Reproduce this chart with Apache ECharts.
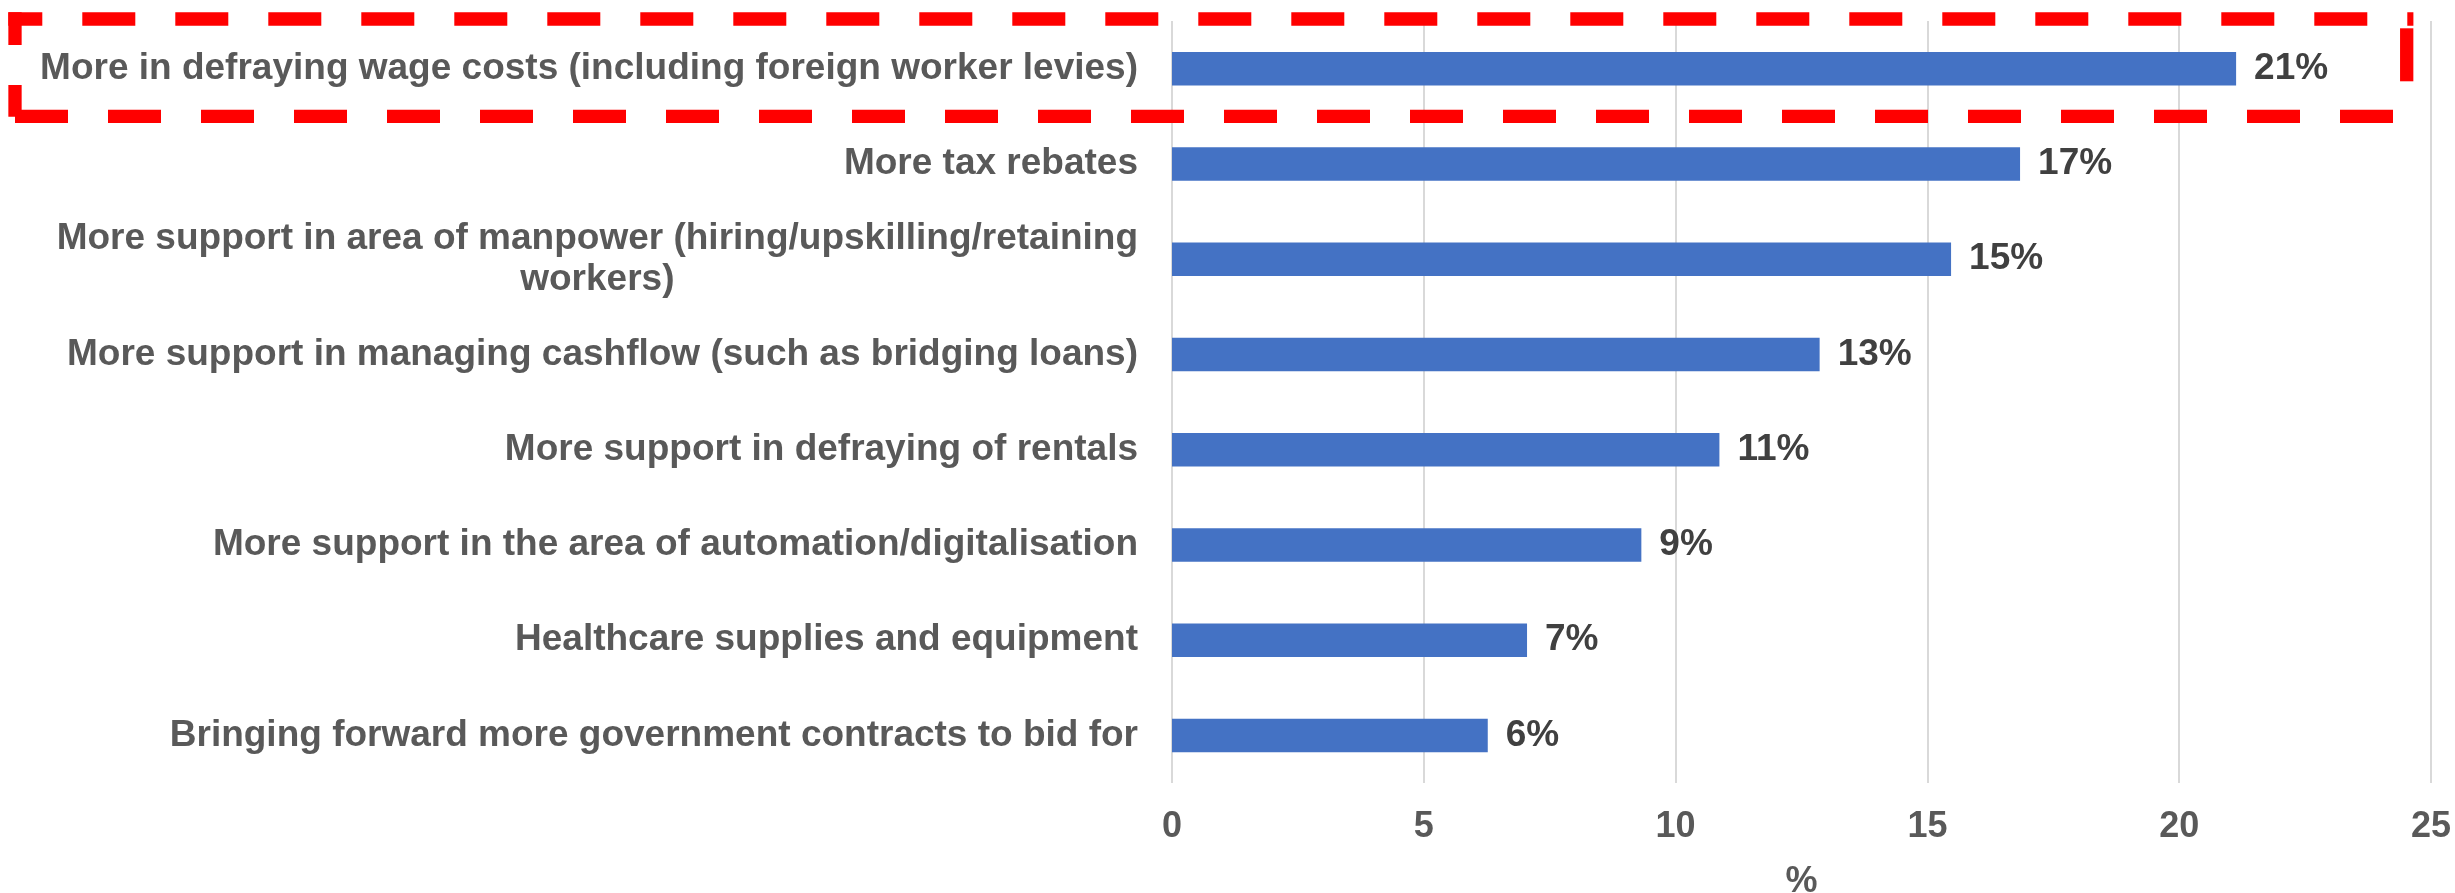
<!DOCTYPE html>
<html>
<head>
<meta charset="utf-8">
<style>
  html, body { margin: 0; padding: 0; background: #ffffff; }
  #chart { width: 2455px; height: 893px; }
</style>
<script src="https://cdn.jsdelivr.net/npm/echarts@6/dist/echarts.min.js"></script>
</head>
<body>
<div id="chart"></div>
<script>
const categories = [
  'More in defraying wage costs (including foreign worker levies)',
  'More tax rebates',
  'More support in area of manpower (hiring/upskilling/retaining\nworkers)',
  'More support in managing cashflow (such as bridging loans)',
  'More support in defraying of rentals',
  'More support in the area of automation/digitalisation',
  'Healthcare supplies and equipment',
  'Bringing forward more government contracts to bid for'
];
const values = [21.13, 16.84, 15.47, 12.86, 10.87, 9.32, 7.05, 6.27];
const xTicks = { min: 0, max: 25, interval: 5 };
const axisName = '%';

const FONT = "'Liberation Sans', Arial, sans-serif";
const chart = echarts.init(document.getElementById('chart'), null, { renderer: 'canvas' });

const RED = '#FF0000';
const LW = 13.3;
const DASH = [53, 40];

chart.setOption({
  animation: false,
  backgroundColor: '#ffffff',
  grid: { left: 1172, right: 24, top: 21, bottom: 110, containLabel: false, outerBoundsMode: 'none' },
  xAxis: {
    type: 'value',
    min: xTicks.min, max: xTicks.max, interval: xTicks.interval,
    name: axisName,
    nameLocation: 'middle',
    nameGap: 81,
    nameTextStyle: { fontFamily: FONT, fontSize: 36, fontWeight: 'bold', color: '#595959' },
    axisLine: { show: false },
    axisTick: { show: false },
    axisLabel: { margin: 26, fontFamily: FONT, fontSize: 36, fontWeight: 'bold', color: '#595959' },
    splitLine: { show: true, lineStyle: { color: '#D9D9D9', width: 2 } }
  },
  yAxis: {
    type: 'category',
    data: categories,
    inverse: true,
    axisLine: { show: false },
    axisTick: { show: false },
    splitLine: { show: false },
    axisLabel: {
      margin: 34,
      formatter: function (v) {
        return v.split('\n').map(function (s) { return '{c|' + s + '}'; }).join('\n');
      },
      rich: {
        c: { align: 'center', fontFamily: FONT, fontSize: 37, fontWeight: 'bold', color: '#595959', lineHeight: 41 }
      }
    }
  },
  series: [{
    type: 'bar',
    data: values,
    barWidth: 33.5,
    itemStyle: { color: '#4472C4' },
    label: {
      show: true,
      position: 'right',
      distance: 18,
      fontFamily: FONT,
      fontSize: 37,
      fontWeight: 'bold',
      color: '#404040',
      formatter: function (p) { return Math.round(p.value) + '%'; }
    }
  }],
  graphic: [
    { type: 'line', z: 100, shape: { x1: 8.3, y1: 19, x2: 2413.4, y2: 19 },
      style: { stroke: RED, lineWidth: LW, lineDash: DASH, lineDashOffset: 19, fill: null } },
    { type: 'line', z: 100, shape: { x1: 15, y1: 116.3, x2: 2413.4, y2: 116.3 },
      style: { stroke: RED, lineWidth: LW, lineDash: DASH, lineDashOffset: 0, fill: null } },
    { type: 'line', z: 100, shape: { x1: 15, y1: 116.7, x2: 15, y2: 12.3 },
      style: { stroke: RED, lineWidth: LW, lineDash: DASH, lineDashOffset: 21.3, fill: null } },
    { type: 'line', z: 100, shape: { x1: 2406.7, y1: 28.3, x2: 2406.7, y2: 116 },
      style: { stroke: RED, lineWidth: LW, lineDash: DASH, lineDashOffset: 0, fill: null } }
  ]
});
</script>
</body>
</html>
